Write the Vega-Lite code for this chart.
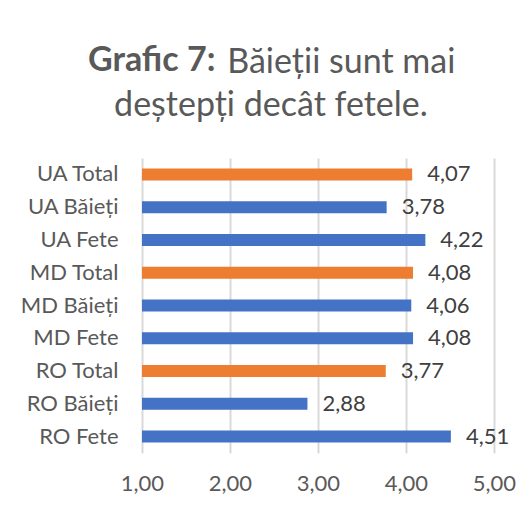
{
  "$schema": "https://vega.github.io/schema/vega-lite/v6.json",
  "width": 352,
  "height": 295,
  "autosize": {"type": "none"},
  "padding": {"left": 142, "top": 158, "right": 38, "bottom": 54},
  "background": "white",
  "config": {
    "locale": {"number": {"decimal": ",", "thousands": ".", "grouping": [3], "currency": ["", ""]}},
    "view": {"stroke": null},
    "font": "Lato"
  },
  "title": {
    "text": "Grafic 7:",
    "subtitle": ["\u200b\u00a0\u00a0\u00a0\u00a0\u00a0\u00a0\u00a0\u00a0\u00a0\u00a0\u00a0\u00a0\u00a0\u00a0\u00a0\u00a0Băieții sunt mai", "\u200b\u00a0\u00a0\u00a0deștepți decât fetele."],
    "anchor": "start",
    "frame": "group",
    "dx": -54,
    "font": "Lato",
    "fontSize": 34,
    "fontWeight": "bold",
    "color": "#595959",
    "subtitleFont": "Lato",
    "subtitleFontSize": 34,
    "subtitleFontWeight": "normal",
    "subtitleColor": "#595959",
    "subtitlePadding": -32,
    "subtitleLineHeight": 43,
    "offset": 35
  },
  "data": {
    "values": [
      {"grup": "UA Total", "categorie": "Total", "medie": 4.07},
      {"grup": "UA Băieți", "categorie": "Băieți", "medie": 3.78},
      {"grup": "UA Fete", "categorie": "Fete", "medie": 4.22},
      {"grup": "MD Total", "categorie": "Total", "medie": 4.08},
      {"grup": "MD Băieți", "categorie": "Băieți", "medie": 4.06},
      {"grup": "MD Fete", "categorie": "Fete", "medie": 4.08},
      {"grup": "RO Total", "categorie": "Total", "medie": 3.77},
      {"grup": "RO Băieți", "categorie": "Băieți", "medie": 2.88},
      {"grup": "RO Fete", "categorie": "Fete", "medie": 4.51}
    ]
  },
  "encoding": {
    "y": {
      "field": "grup",
      "type": "nominal",
      "sort": null,
      "scale": {"paddingInner": 0, "paddingOuter": 0},
      "axis": {
        "title": null,
        "domain": false,
        "ticks": false,
        "labelPadding": 24,
        "labelFontSize": 22,
        "labelFont": "Lato",
        "labelColor": "#595959"
      }
    }
  },
  "layer": [
    {
      "mark": {"type": "bar", "height": 12},
      "encoding": {
        "x": {
          "field": "medie",
          "type": "quantitative",
          "scale": {"domain": [1, 5], "zero": false, "nice": false},
          "axis": {
            "title": null,
            "values": [1, 2, 3, 4, 5],
            "format": ".2f",
            "domain": false,
            "ticks": false,
            "grid": true,
            "gridColor": "#d9d9d9",
            "gridWidth": 2,
            "labelFlush": false,
            "labelPadding": 20,
            "labelFontSize": 22,
            "labelFont": "Lato",
            "labelColor": "#595959"
          }
        },
        "x2": {"datum": 1},
        "color": {
          "field": "categorie",
          "type": "nominal",
          "scale": {"domain": ["Total", "Băieți", "Fete"], "range": ["#ED7D31", "#4472C4", "#4472C4"]},
          "legend": null
        }
      }
    },
    {
      "mark": {"type": "text", "align": "left", "baseline": "middle", "dx": 15, "fontSize": 22, "font": "Lato", "color": "#404040"},
      "encoding": {
        "x": {"field": "medie", "type": "quantitative"},
        "text": {"field": "medie", "type": "quantitative", "format": ".2f"}
      }
    }
  ]
}
